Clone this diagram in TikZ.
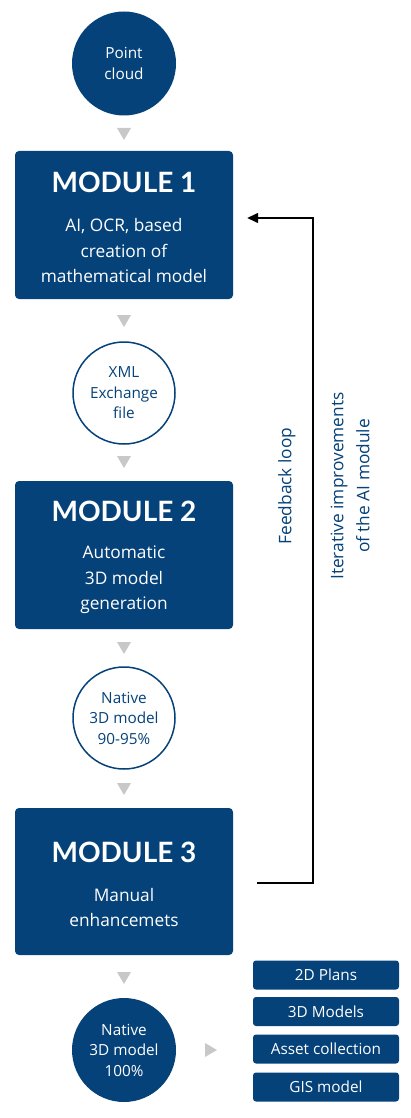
\documentclass[tikz,border=0pt]{standalone}
\usepackage{fontspec}
\setmainfont{Open Sans}
\newfontfamily\titlef{Lato}
\usetikzlibrary{arrows.meta,calc}
\definecolor{navy}{HTML}{05427A}
\definecolor{trigray}{HTML}{C8C8C8}
\newcommand{\dtri}[2]{\fill[trigray] (#1-7,#2) -- (#1+7,#2) -- (#1,#2+12) -- cycle;}
\begin{document}
\begin{tikzpicture}[x=1pt,y=-1pt,
  modbox/.style={fill=navy,rounded corners=4pt,minimum width=218pt,minimum height=148pt,inner sep=0pt},
  modtitle/.style={text=white,font=\titlef\fontsize{28}{28}\selectfont\bfseries,inner sep=0pt},
  modbody/.style={text=white,font=\fontsize{17.3}{25.5}\selectfont,align=center,inner sep=0pt},
  fullcirc/.style={circle,fill=navy,minimum size=104pt,inner sep=0pt,text=white,align=center,font=\fontsize{15.3}{20.5}\selectfont},
  opencirc/.style={circle,draw=navy,line width=1.5pt,fill=white,minimum size=102pt,inner sep=0pt,text=navy,align=center,font=\fontsize{15.3}{20.5}\selectfont},
  outbox/.style={fill=navy,rounded corners=3pt,minimum width=146pt,minimum height=29pt,inner sep=0pt,text=white,font=\fontsize{15.3}{15.3}\selectfont},
  sidelabel/.style={text=navy,font=\fontsize{17.3}{26}\selectfont,align=center,rotate=90,inner sep=0pt},
  fbline/.style={line width=1.4pt,black}
]
\useasboundingbox (0,0) rectangle (411,1118);

% main column
\node[fullcirc] (pc) at (124,63.5) {Point\\cloud};
\node[modbox] (m1) at (124,225) {};
\node[modtitle] (m1t) at (124,182) {MODULE 1};
\node[modbody] (m1b) at (124,251) {AI, OCR, based\\creation of\\mathematical model};

\node[opencirc] (xml) at (124,393) {XML\\Exchange\\file};

\node[modbox] (m2) at (124,555) {};
\node[modtitle] (m2t) at (124,511) {MODULE 2};
\node[modbody] (m2b) at (124,580) {Automatic\\3D model\\generation};

\node[opencirc] (nat1) at (124,718) {Native\\3D model\\90-95\%};

\node[modbox,minimum height=147pt] (m3) at (124,881.5) {};
\node[modtitle] (m3t) at (124,852) {MODULE 3};
\node[modbody] (m3b) at (124,907.5) {Manual\\enhancemets};

\node[fullcirc] (nat2) at (124,1050) {Native\\3D model\\100\%};

% gray triangles
\dtri{124}{128}
\dtri{124}{315}
\dtri{124}{456}
\dtri{124}{642}
\dtri{124}{783}
\dtri{124}{972}
\fill[trigray] (205,1043) -- (205,1057) -- (217,1050) -- cycle;

% output boxes
\node[outbox] (o1) at (326,975) {2D Plans};
\node[outbox] (o2) at (326,1011.5) {3D Models};
\node[outbox] (o3) at (326,1049) {Asset collection};
\node[outbox] (o4) at (326,1087) {GIS model};

% feedback loop
\coordinate (fbs) at ($(m3.east)+(24,1.5)$);
\coordinate (fbe) at ($(m1.east)+(14,-7)$);
\draw[fbline,-{Triangle[length=11pt,width=10pt]}] (fbs) -- (313,883) -- (313,218) -- (fbe);

\node[sidelabel] (fbl) at (287,486) {Feedback loop};
\node[sidelabel] (itl) at (350,486) {Iterative improvements\\of the AI module};
\end{tikzpicture}
\end{document}
